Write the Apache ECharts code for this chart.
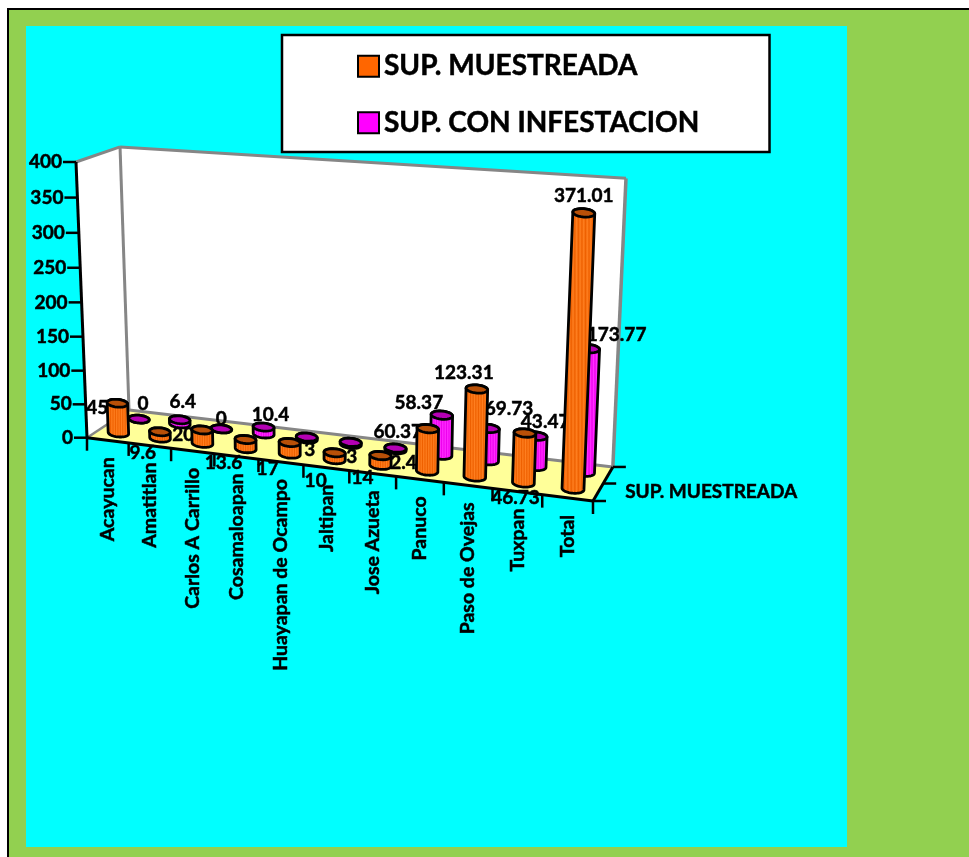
<!DOCTYPE html>
<html>
<head>
    <meta charset="utf-8">
    <title>Superficie muestreada</title>
    <script src="https://cdn.jsdelivr.net/npm/echarts@6/dist/echarts.min.js"></script>
    <style>
        html, body { margin: 0; padding: 0; background: #fff; }
        #main { width: 969px; height: 857px; }
    </style>
</head>
<body>
<div id="main"></div>
<script>
    const categories = ['Acayucan', 'Amatitlan', 'Carlos A Carrillo', 'Cosamaloapan', 'Huayapan de Ocampo',
        'Jaltipan', 'Jose Azueta', 'Panuco', 'Paso de Ovejas', 'Tuxpan', 'Total'];
    const muestreada = [45, 9.6, 20, 13.6, 17, 10, 14, 60.37, 123.31, 69.73, 371.01];
    const infestacion = [0, 6.4, 0, 10.4, 3, 3, 2.4, 58.37, 46.73, 43.47, 173.77];
    const yTicks = [0, 50, 100, 150, 200, 250, 300, 350, 400];
    const seriesNames = ['SUP. MUESTREADA', 'SUP. CON INFESTACION'];

    // where each data label sits, relative to the top of its column
    const muestreadaNudge = [[-20, 5], [-17, 21], [-19, 5], [-22, 23], [-22, 26], [-19, 28], [-18, 22],
        [-30, 3], [-13, -16], [-16, -24], [0, -17]];
    const infestacionNudge = [[4, -15], [3, -18], [0, -10], [7, -12], [3, 13], [1, 15], [8, 15],
        [-23, -12], [27, 69], [9, -14], [28, -14]];

    const FONT = 'Lato';
    const GRID = {left: 87, top: 162, width: 506, height: 276};

    // projective map of the excel 3d box: u along categories, w into depth, v up the value axis
    const FL = [87, 437.7], FR = [593, 501], BL = [129, 410], TFL = [76, 162];
    const PERSP_U = -0.103, PERSP_W = 0.05, PERSP_V = -0.036;
    const TWIST = [4, 2]; // the top right corner of the picture is not quite projective

    function project(u, w, v) {
        const W = 1 + PERSP_U * u + PERSP_W * w + PERSP_V * v;
        return [0, 1].map(function (k) {
            const a1 = FR[k] * (1 + PERSP_U) - FL[k];
            const a2 = BL[k] * (1 + PERSP_W) - FL[k];
            const a3 = TFL[k] * (1 + PERSP_V) - FL[k];
            return (FL[k] + a1 * u + a2 * w + a3 * v) / W + TWIST[k] * u * v;
        });
    }

    // grid pixel from the axes -> unit box coordinates
    function unitFrom(cs, p) {
        return [(p[0] - cs.x) / cs.width, (cs.y + cs.height - p[1]) / cs.height];
    }

    function stripes(dark, base, light) {
        const stops = [{offset: 0, color: dark}];
        for (let i = 1; i < 20; i++) {
            stops.push({offset: i / 20, color: i % 2 ? light : base});
        }
        stops.push({offset: 1, color: dark});
        return new echarts.graphic.LinearGradient(0, 0, 1, 0, stops);
    }

    function ellipsePoints(c, scale, from, to) {
        const pts = [];
        const rx = 10 * scale, ry = 3.8 * scale;
        for (let i = 0; i <= 24; i++) {
            const t = from + (to - from) * i / 24;
            pts.push([c[0] + rx * Math.cos(t), c[1] + ry * Math.sin(t) + 0.08 * rx * Math.cos(t)]);
        }
        return pts;
    }

    function columnRenderer(depth, nudge, colors) {
        return function (params, api) {
            const cs = params.coordSys;
            const idx = api.value(0), val = api.value(1);
            const top = unitFrom(cs, api.coord([idx, val]));
            const u = top[0];
            const base = project(u, depth, 0);
            const cap = project(u, depth, top[1]);
            const scale = 1.02 / (1 + PERSP_U * u * 0.7);
            const shaft = ellipsePoints(base, scale, 0, Math.PI).concat(ellipsePoints(cap, scale, Math.PI, Math.PI * 2));
            return {
                type: 'group',
                children: [
                    {
                        type: 'text', z2: 1, silent: true,
                        x: cap[0] + nudge[idx][0], y: cap[1] + nudge[idx][1],
                        style: {
                            text: String(val), fontFamily: FONT, fontWeight: 'bold', fontSize: 19,
                            fill: '#000', stroke: '#000', lineWidth: 0.5,
                            align: 'center', verticalAlign: 'middle'
                        }
                    },
                    {
                        type: 'polygon', z2: 2,
                        shape: {points: shaft},
                        style: {fill: stripes(colors[0], colors[1], colors[2]), stroke: '#000', lineWidth: 2.8}
                    },
                    {
                        type: 'polygon', z2: 3,
                        shape: {points: ellipsePoints(cap, scale, 0, Math.PI * 2)},
                        style: {fill: colors[3], stroke: '#000', lineWidth: 2.8}
                    }
                ]
            };
        };
    }

    function renderFrame(params, api) {
        const cs = params.coordSys;
        const band = api.size([1, 0])[0];
        const children = [];
        const poly = function (pts, fill) {
            children.push({type: 'polygon', shape: {points: pts}, style: {fill: fill, stroke: null}});
        };
        const line = function (a, b, color, width) {
            children.push({
                type: 'line',
                shape: {x1: a[0], y1: a[1], x2: b[0], y2: b[1]},
                style: {stroke: color, lineWidth: width}
            });
        };
        const text = function (str, x, y, opt) {
            children.push({
                type: 'text', x: x, y: y, rotation: opt.rotation || 0,
                style: {
                    text: str, fontFamily: FONT, fontWeight: 'bold', fontSize: opt.size || 19, fill: '#000',
                    stroke: '#000', lineWidth: 0.5, align: opt.align, verticalAlign: 'middle'
                }
            });
        };

        // walls and floor
        poly([project(0, 0, 0), project(0, 1, 0), project(0, 1, 1), project(0, 0, 1)], '#fff');
        poly([project(0, 1, 0), project(1, 1, 0), project(1, 1, 1), project(0, 1, 1)], '#fff');
        poly([project(0, 0, 0), project(1, 0, 0), project(1, 1, 0), project(0, 1, 0)], '#FFFF99');
        const GRAY = '#868686';
        line(project(0, 0, 1), project(0, 1, 1), GRAY, 3);
        line(project(0, 1, 1), project(1, 1, 1), GRAY, 3);
        line(project(0, 1, 0), project(0, 1, 1), GRAY, 3);
        line(project(1, 1, 0), project(1, 1, 1), GRAY, 3.5);
        line(project(0, 1, 0), project(1, 1, 0), GRAY, 3);
        line(project(0, 0, 0), project(0, 1, 0), GRAY, 2.5);

        // value axis
        line(project(0, 0, 0), project(0, 0, 1), '#000', 3);
        yTicks.forEach(function (t) {
            const v = unitFrom(cs, api.coord([0, t]))[1];
            const p = project(0, 0, v);
            line(p, [p[0] - 13, p[1]], '#000', 2.5);
            text(String(t), p[0] - 14, p[1], {align: 'right'});
        });

        // category axis along the front of the floor
        line(project(0, 0, 0), project(1, 0, 0), '#000', 3);
        categories.forEach(function (c, i) {
            const u = (api.coord([i, 0])[0] - band / 2 - cs.x) / cs.width;
            const p = project(u, 0, 0);
            line(p, [p[0], p[1] + 13], '#000', 2.5);
            const mid = project((api.coord([i, 0])[0] - cs.x) / cs.width, 0, 0);
            text(c, mid[0], mid[1] + 17, {align: 'right', rotation: Math.PI / 2, size: 19.5});
        });
        const end = project(1, 0, 0);
        line(end, [end[0], end[1] + 13], '#000', 2.5);

        // depth axis at the right
        line(project(1, 0, 0), project(1, 1, 0), '#000', 3);
        [0, 0.5, 1].forEach(function (w) {
            const p = project(1, w, 0);
            line(p, [p[0] + 13, p[1]], '#000', 2.5);
        });
        const mid = project(1, 0.5, 0);
        text(seriesNames[0], mid[0] + 22, mid[1] + 8, {align: 'left', size: 19});

        return {type: 'group', children: children};
    }

    const myChart = echarts.init(document.getElementById('main'), null, {renderer: 'canvas'});

    myChart.setOption({
        animation: false,
        tooltip: {show: false},
        graphic: [
            {type: 'rect', z: -3, shape: {x: 7, y: 8, width: 962, height: 849}, style: {fill: '#000'}},
            {type: 'rect', z: -2, shape: {x: 9, y: 10, width: 960, height: 847}, style: {fill: '#92D050'}},
            {type: 'rect', z: -1, shape: {x: 26, y: 26, width: 821, height: 821}, style: {fill: '#00FFFF'}}
        ],
        legend: {
            orient: 'vertical',
            left: 282,
            top: 35,
            z: 10,
            backgroundColor: '#fff',
            borderColor: '#000',
            borderWidth: 2.5,
            padding: [17, 70, 15, 75],
            itemWidth: 21,
            itemHeight: 21,
            itemGap: 28,
            selectedMode: false,
            textStyle: {
                fontFamily: FONT, fontWeight: 'bold', fontSize: 28, color: '#000',
                textBorderColor: '#000', textBorderWidth: 0.5
            },
            data: [
                {name: seriesNames[0], icon: 'rect', itemStyle: {color: '#FF6600', borderColor: '#000', borderWidth: 2}},
                {name: seriesNames[1], icon: 'rect', itemStyle: {color: '#FF00FF', borderColor: '#000', borderWidth: 2}}
            ]
        },
        grid: {left: GRID.left, top: GRID.top, width: GRID.width, height: GRID.height},
        xAxis: {type: 'category', data: categories, show: false},
        yAxis: {type: 'value', min: 0, max: 400, interval: 50, show: false},
        series: [
            {
                type: 'custom', name: 'frame', z: 1, silent: true, clip: false,
                renderItem: renderFrame,
                data: [[0, 0]]
            },
            {
                type: 'custom', name: seriesNames[1], z: 2, silent: true, clip: false,
                itemStyle: {color: '#FF00FF'},
                renderItem: columnRenderer(0.75, infestacionNudge, ['#A800A8', '#EE00EE', '#FF30FF', '#B400B4']),
                data: infestacion.map(function (v, i) { return [i, v]; })
            },
            {
                type: 'custom', name: seriesNames[0], z: 3, silent: true, clip: false,
                itemStyle: {color: '#FF6600'},
                renderItem: columnRenderer(0.25, muestreadaNudge, ['#B84A00', '#EE6000', '#FF7F20', '#B85008']),
                data: muestreada.map(function (v, i) { return [i, v]; })
            }
        ]
    });
</script>
</body>
</html>
